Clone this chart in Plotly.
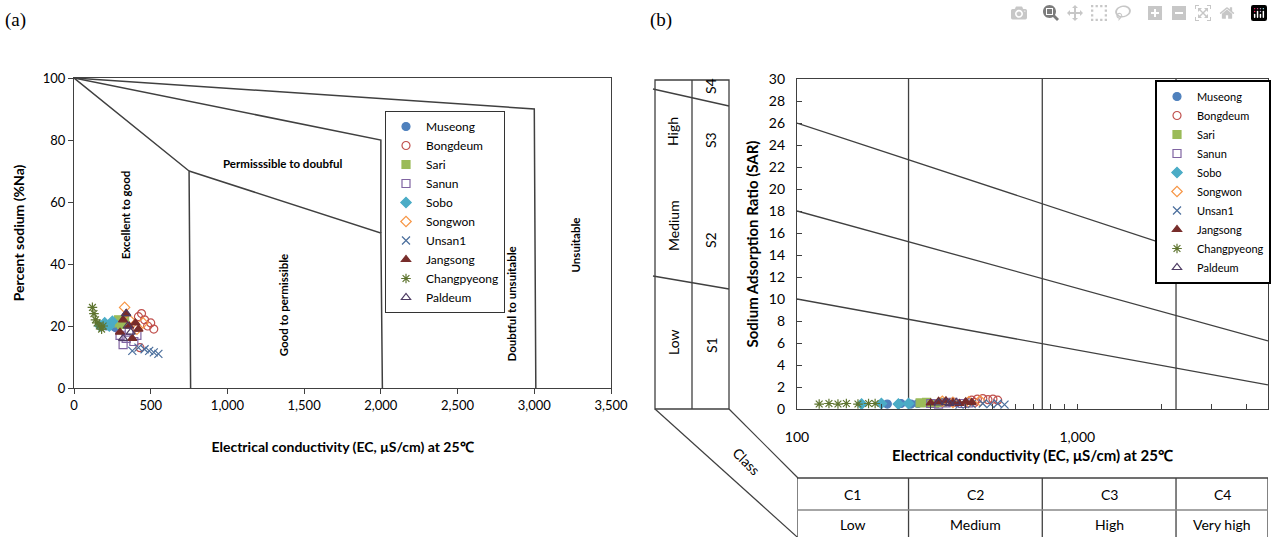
import plotly.graph_objects as go
import math

W, H = 1273, 537

# ---------------- data ----------------
sites = ["Museong", "Bongdeum", "Sari", "Sanun", "Sobo", "Songwon",
         "Unsan1", "Jangsong", "Changpyeong", "Paldeum"]
colors = ["#4F81BD", "#C0504D", "#9BBB59", "#8064A2", "#4BACC6", "#F79646",
          "#4A6E9C", "#772C2A", "#5F7530", "#4D3B62"]
symbols = ["circle", "circle-open", "square", "square-open", "diamond",
           "diamond-open", "x-thin-open", "triangle-up", "asterisk-open",
           "triangle-up-open"]

ec = {
    "Museong":     [210, 235, 255, 270, 290],
    "Bongdeum":    [420, 440, 460, 480, 500, 520, 430],
    "Sari":        [275, 290, 310, 330],
    "Sanun":       [300, 320, 340, 360, 390, 410],
    "Sobo":        [170, 200, 230, 250],
    "Songwon":     [330, 360, 410, 450],
    "Unsan1":      [380, 420, 460, 490, 520, 550],
    "Jangsong":    [300, 320, 340, 360, 380, 400, 420],
    "Changpyeong": [120, 130, 140, 150, 165, 180, 190],
    "Paldeum":     [320, 340, 350, 370],
}
na_pct = {
    "Museong":     [20, 20.5, 20, 19.5, 21],
    "Bongdeum":    [23, 24, 22, 20, 21, 19, 13],
    "Sari":        [21, 22, 20.5, 22],
    "Sanun":       [17, 14, 16, 18, 15, 17],
    "Sobo":        [20, 21, 20, 21.5],
    "Songwon":     [26, 22, 19, 21],
    "Unsan1":      [12, 13, 12.5, 12, 11.5, 11],
    "Jangsong":    [18, 22, 24, 20, 16, 21, 19],
    "Changpyeong": [26, 24, 22, 21, 20, 19, 20],
    "Paldeum":     [16, 24, 20, 18],
}
sar = {
    "Museong":     [0.45, 0.5, 0.45, 0.5, 0.55],
    "Bongdeum":    [0.8, 0.9, 0.95, 0.85, 0.9, 0.8, 0.6],
    "Sari":        [0.55, 0.6, 0.5, 0.6],
    "Sanun":       [0.5, 0.45, 0.55, 0.6, 0.5, 0.55],
    "Sobo":        [0.45, 0.5, 0.45, 0.5],
    "Songwon":     [0.7, 0.6, 0.65, 0.75],
    "Unsan1":      [0.4, 0.45, 0.5, 0.45, 0.5, 0.4],
    "Jangsong":    [0.55, 0.7, 0.75, 0.6, 0.5, 0.65, 0.6],
    "Changpyeong": [0.45, 0.5, 0.45, 0.5, 0.45, 0.5, 0.5],
    "Paldeum":     [0.55, 0.6, 0.5, 0.6],
}

# Wilcox diagram boundaries (EC, %Na)
wilcox_x = [[0, 750, 760], [750, 2000, 2010], [0, 2000, 2000], [0, 3000, 3010]]
wilcox_y = [[100, 70, 0], [70, 50, 0], [100, 80, 50], [100, 90, 0]]
wilcox_labels = ["Excellent to good", "Permisssible to doubful", "Good to permissible",
                 "Doubtful to unsuitable", "Unsuitable"]
wilcox_lab_x = [332, 1362, 1362, 2849, 3266]
wilcox_lab_y = [56, 72.5, 27, 27, 46]
wilcox_lab_rot = [-90, 0, -90, -90, -90]

# USSL diagram
ec_min, ec_max = 100, 4790
ec_class_bounds = [250, 750, 2250]
sar_left = [26, 18, 10]
sar_right = [11.9, 6.2, 2.2]
c_classes = ["C1", "C2", "C3", "C4"]
c_names = ["Low", "Medium", "High", "Very high"]

FONT = "Lato, 'Open Sans', sans-serif"
LC = "#404040"

def px(x):
    return x / W

def py(y):
    return 1 - y / H

def note(text, x, y, xref="paper", yref="paper", size=14, angle=0, family=FONT):
    return dict(text=text, x=x, y=y, xref=xref, yref=yref, showarrow=False,
                xanchor="center", yanchor="middle", textangle=angle,
                font=dict(family=family, size=size, color="black"))

fig = go.Figure()

# ---------- panel (a) ----------
for xs, ys in zip(wilcox_x, wilcox_y):
    fig.add_trace(go.Scatter(x=xs, y=ys, mode="lines", line=dict(color=LC, width=1.5),
                             showlegend=False, hoverinfo="skip", xaxis="x", yaxis="y"))
for s, c, m in zip(sites, colors, symbols):
    fig.add_trace(go.Scatter(x=ec[s], y=na_pct[s], mode="markers", name=s,
                             marker=dict(color=c, symbol=m, size=8,
                                         line=dict(color=c, width=1.2)),
                             xaxis="x", yaxis="y", legend="legend"))

# ---------- panel (b) ----------
for yl, yr in zip(sar_left, sar_right):
    fig.add_trace(go.Scatter(x=[ec_min, ec_max], y=[yl, yr], mode="lines",
                             line=dict(color=LC, width=1.3), showlegend=False,
                             hoverinfo="skip", xaxis="x2", yaxis="y2"))
for b in ec_class_bounds:
    fig.add_trace(go.Scatter(x=[b, b], y=[0, 30], mode="lines",
                             line=dict(color=LC, width=1.3), showlegend=False,
                             hoverinfo="skip", xaxis="x2", yaxis="y2"))
for s, c, m in zip(sites, colors, symbols):
    fig.add_trace(go.Scatter(x=ec[s], y=sar[s], mode="markers", name=s,
                             marker=dict(color=c, symbol=m, size=8,
                                         line=dict(color=c, width=1.2)),
                             xaxis="x2", yaxis="y2", legend="legend2"))

ann = []
for t, x, y, r in zip(wilcox_labels, wilcox_lab_x, wilcox_lab_y, wilcox_lab_rot):
    ann.append(note("<b>%s</b>" % t, x, y, xref="x", yref="y", size=11.5, angle=r))

# class table under panel (b)
edges = [ec_min] + ec_class_bounds + [ec_max]
shapes = []
tab_top, tab_mid, tab_bot = py(478), py(510), py(545)
for e in edges:
    shapes.append(dict(type="line", xref="x2", yref="paper", x0=e, x1=e, y0=tab_top, y1=tab_bot,
                       line=dict(color=LC, width=1.3)))
shapes.append(dict(type="line", xref="x2 domain", yref="paper", x0=0, x1=1, y0=tab_top, y1=tab_top,
                   line=dict(color=LC, width=1.3)))
shapes.append(dict(type="line", xref="x2 domain", yref="paper", x0=0, x1=1, y0=tab_mid, y1=tab_mid,
                   line=dict(color="#888", width=1.3)))
for i in range(4):
    mid = (math.log10(edges[i]) + math.log10(edges[i + 1])) / 2
    ann.append(note(c_classes[i], mid, py(494), xref="x2"))
    ann.append(note(c_names[i], mid, py(524), xref="x2"))

# sodium hazard box (left of panel b)
bx0, bxm, bx1, by0, by1 = px(655), px(692), px(729), py(409), py(80)
shapes += [
    dict(type="rect", xref="paper", yref="paper", x0=bx0, x1=bx1, y0=by0, y1=by1,
         line=dict(color=LC, width=1.3)),
    dict(type="line", xref="paper", yref="paper", x0=bxm, x1=bxm, y0=by0, y1=by1,
         line=dict(color=LC, width=1.3)),
    dict(type="line", xref="paper", yref="paper", x0=px(653), x1=px(729), y0=py(89), y1=py(106),
         line=dict(color=LC, width=1.3)),
    dict(type="line", xref="paper", yref="paper", x0=px(653), x1=px(729), y0=py(276), y1=py(289),
         line=dict(color=LC, width=1.3)),
    dict(type="line", xref="paper", yref="paper", x0=px(655), x1=px(806), y0=py(409), y1=py(545),
         line=dict(color=LC, width=1.2)),
    dict(type="line", xref="paper", yref="paper", x0=px(729), x1=px(798), y0=py(409), y1=py(478),
         line=dict(color=LC, width=1.2)),
]
for t, x, y in [("Low", 673, 342), ("Medium", 673, 226), ("High", 673, 132),
                ("S1", 711, 345), ("S2", 711, 240), ("S3", 711, 140), ("S4", 711, 86)]:
    ann.append(note(t, px(x), py(y), angle=-90))
ann.append(note("Class", px(747), py(461), angle=45))

# panel labels
ann.append(note("(a)", px(15), py(20), size=19, family="Liberation Serif, serif"))
ann.append(note("(b)", px(661), py(20), size=19, family="Liberation Serif, serif"))

title_x = "<b>Electrical conductivity (EC, μS/cm) at 25℃</b>"

fig.update_layout(
    width=W, height=H, autosize=False,
    margin=dict(l=0, r=0, t=0, b=0, autoexpand=False),
    paper_bgcolor="white", plot_bgcolor="white",
    font=dict(family=FONT, color="black"),
    xaxis=dict(domain=[px(74), px(611)], range=[0, 3500], tick0=0, dtick=500, tickformat=",",
               ticks="outside", ticklen=5, tickcolor=LC, showline=True, mirror=True,
               linecolor=LC, linewidth=1, showgrid=False, zeroline=False,
               tickfont=dict(size=13), title=dict(text=title_x, font=dict(size=14), standoff=30)),
    yaxis=dict(domain=[py(388), py(78)], range=[0, 100], dtick=20,
               ticks="outside", ticklen=5, tickcolor=LC, showline=True, mirror=True,
               linecolor=LC, linewidth=1, showgrid=False, zeroline=False,
               tickfont=dict(size=13),
               title=dict(text="<b>Percent sodium (%Na)</b>", font=dict(size=14), standoff=14)),
    xaxis2=dict(domain=[px(797), px(1268)], type="log",
                range=[math.log10(ec_min), math.log10(ec_max)],
                tickvals=[100, 1000], ticktext=["100", "1,000"],
                ticks="inside", ticklen=5, tickcolor=LC, showline=True, mirror=True,
                linecolor=LC, linewidth=1.3, showgrid=False, zeroline=False,
                minor=dict(ticks="inside", ticklen=5, tickcolor=LC,
                           tickvals=[200, 300, 400, 500, 600, 700, 800, 900, 2000, 3000, 4000],
                           showgrid=False),
                ticklabelstandoff=15, tickfont=dict(size=14),
                anchor="y2",
                title=dict(text=title_x, font=dict(size=15), standoff=6)),
    yaxis2=dict(domain=[py(409), py(79)], range=[0, 30], dtick=2, anchor="x2",
                ticks="inside", ticklen=5, tickcolor=LC, showline=True, mirror=True,
                linecolor=LC, linewidth=1.3, showgrid=False, zeroline=False,
                tickfont=dict(size=14), ticklabelstandoff=8,
                title=dict(text="<b>Sodium Adsorption Ratio (SAR)</b>", font=dict(size=15),
                           standoff=6)),
    legend=dict(x=px(385), y=py(111), xanchor="left", yanchor="top",
                bordercolor="#333", borderwidth=1, bgcolor="white",
                font=dict(size=12), itemwidth=30, tracegroupgap=0),
    legend2=dict(x=px(1271), y=py(80), xanchor="right", yanchor="top",
                 bordercolor="black", borderwidth=2, bgcolor="white",
                 font=dict(size=11), itemwidth=30, tracegroupgap=0),
    annotations=ann, shapes=shapes,
)

fig.write_html("out.html",
               post_script="document.body.style.margin='0';document.body.style.overflow='hidden';")
